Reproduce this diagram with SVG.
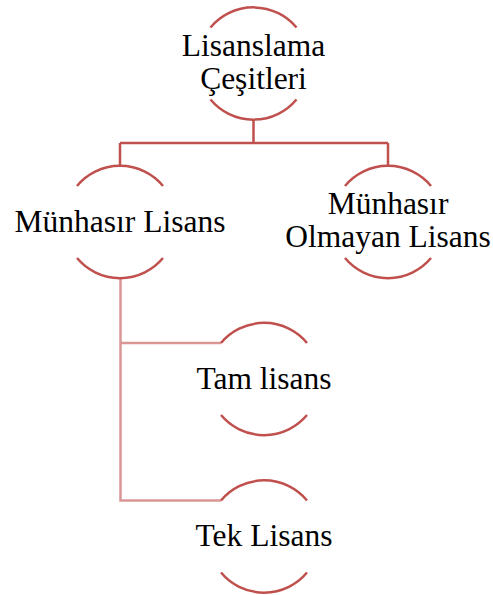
<svg xmlns="http://www.w3.org/2000/svg" width="493" height="595" viewBox="0 0 493 595">
  <style>
    .arc { fill: none; stroke: #C0504D; stroke-width: 2.5; }
    .link { fill: none; stroke: #C0504D; stroke-width: 2.5; }
    .sublink { fill: none; stroke: #D99694; stroke-width: 2.5; }
    .label { font-family: "Liberation Serif", "Times New Roman", serif; font-size: 31.5px; fill: #000; text-anchor: middle; }
  </style>
  <defs>
    <!-- open circle frame: top and bottom arcs, centred on the origin -->
    <g id="frame">
      <path class="arc" d="M -43 -36 A 56 56 0 0 1 43 -36"/>
      <path class="arc" d="M -43 36 A 56 56 0 0 0 43 36"/>
    </g>
  </defs>
  <rect width="493" height="595" fill="#fff"/>

  <g id="connectors">
    <path class="link" d="M 253.5 119.5 V 143 M 120 143 H 388 M 120 143 V 166 M 388 143 V 166"/>
    <path class="sublink" d="M 120.5 278 V 500.5 H 221 M 120.5 343 H 221"/>
  </g>

  <g id="node-root">
    <use href="#frame" x="253.5" y="63.5"/>
    <text class="label" x="253.5" y="56">Lisanslama</text>
    <text class="label" x="253.5" y="89">Çeşitleri</text>
  </g>

  <g id="node-exclusive">
    <use href="#frame" x="120" y="222"/>
    <text class="label" x="120" y="231.5">Münhasır Lisans</text>
  </g>

  <g id="node-nonexclusive">
    <use href="#frame" x="388" y="222"/>
    <text class="label" x="388" y="213.5">Münhasır</text>
    <text class="label" x="388" y="246.5">Olmayan Lisans</text>
  </g>

  <g id="node-full">
    <use href="#frame" x="264" y="379"/>
    <text class="label" x="264" y="388.5">Tam lisans</text>
  </g>

  <g id="node-single">
    <use href="#frame" x="264" y="536.5"/>
    <text class="label" x="264" y="546">Tek Lisans</text>
  </g>
</svg>
